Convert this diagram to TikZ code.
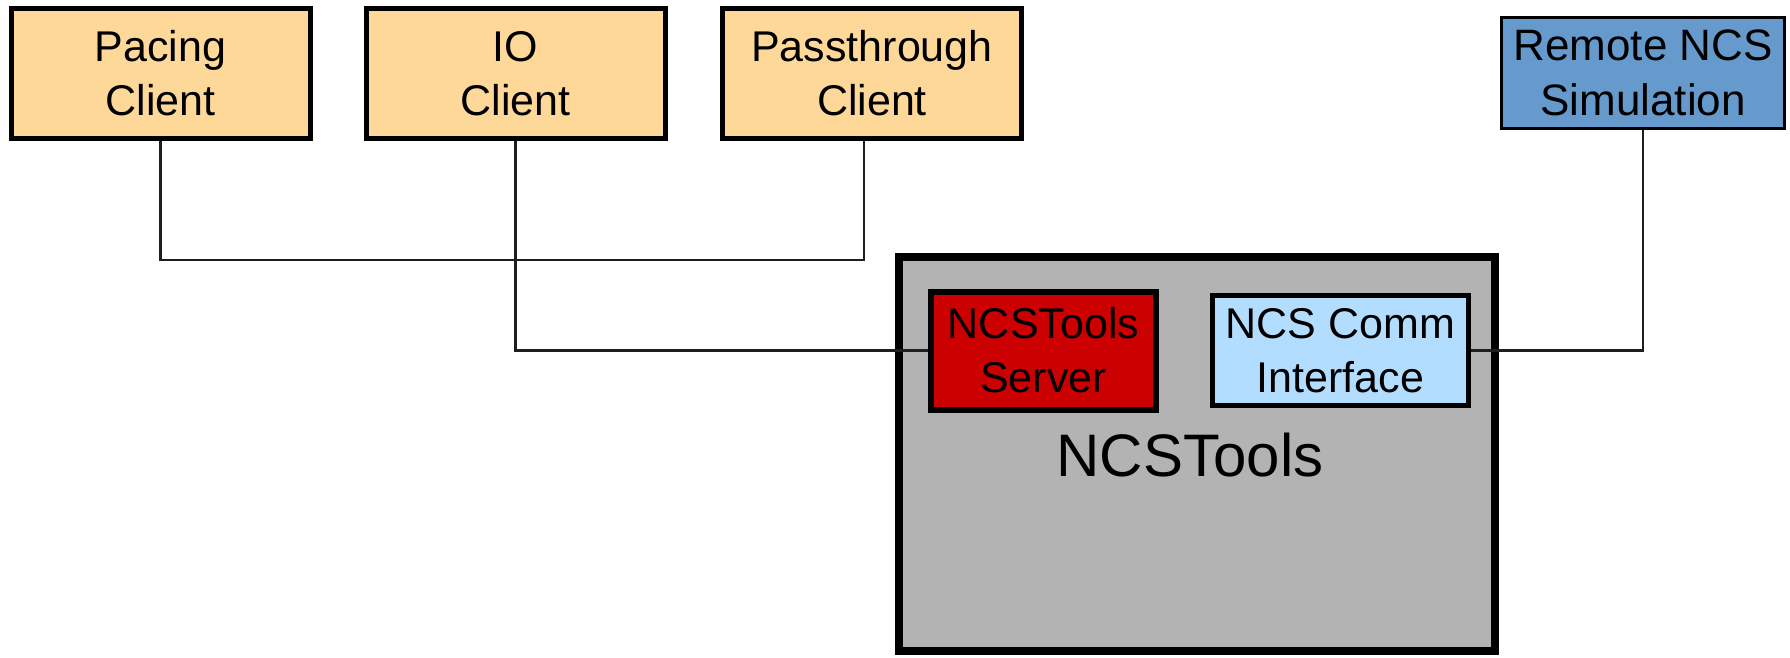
\documentclass[tikz,border=0pt]{standalone}
\usepackage{fontspec}
\setmainfont{Liberation Sans}
\definecolor{clientfill}{HTML}{FDD899}
\definecolor{remotefill}{HTML}{6699CC}
\definecolor{serverfill}{HTML}{CC0000}
\definecolor{commfill}{HTML}{B3DDFE}
\definecolor{toolsfill}{HTML}{B3B3B3}
\definecolor{wirecol}{HTML}{1E1E1E}
\begin{document}
\begin{tikzpicture}[x=1pt,y=-1pt,
  box/.style={draw=black, rectangle, inner sep=0pt, align=center,
    font=\fontsize{43}{54}\selectfont},
  client/.style={box, fill=clientfill, line width=5pt,
    minimum width=299pt, minimum height=129.5pt},
  remotebox/.style={box, fill=remotefill, line width=3pt,
    minimum width=283pt, minimum height=111pt,
    font=\fontsize{44}{55}\selectfont},
  serverbox/.style={box, fill=serverfill, line width=6pt,
    minimum width=225pt, minimum height=118pt},
  commbox/.style={box, fill=commfill, line width=5pt,
    minimum width=256pt, minimum height=110pt},
  toolsbox/.style={draw=black, fill=toolsfill, line width=8pt, inner sep=0pt,
    minimum width=596pt, minimum height=394pt},
  wire/.style={draw=wirecol, line width=2.8pt}]
\useasboundingbox (0,0) rectangle (1790,657);

% outer NCSTools container and its title
\node[toolsbox] (tools) at (1197,454) {};
\node[anchor=base, font=\fontsize{60}{72}\selectfont] (toolslabel) at (1190,476.7) {NCSTools};

% client processes
\node[client] (pacing) at (160.5,73.25) {Pacing\\Client};
\node[client] (io) at (515.5,73.25) {IO\\Client};
\node[client] (pass) at (872,73.25) {Passthrough\\Client};

% remote simulator
\node[remotebox] (remote) at (1643,73) {Remote NCS\\Simulation};

% components inside NCSTools
\node[serverbox] (server) at (1043.5,350.5) {NCSTools\\Server};
\node[commbox] (comm) at (1340.5,350.2) {NCS Comm\\Interface};

% connections
\coordinate (bus) at (0,260);
\draw[wire] (pacing.south) -- (pacing.south |- bus)
  -- ([xshift=-8pt]pass.south |- bus) -- ([xshift=-8pt]pass.south);
\draw[wire] (io.south) |- (server.west);
\draw[wire] (remote.south) |- (comm.east);
\end{tikzpicture}
\end{document}
